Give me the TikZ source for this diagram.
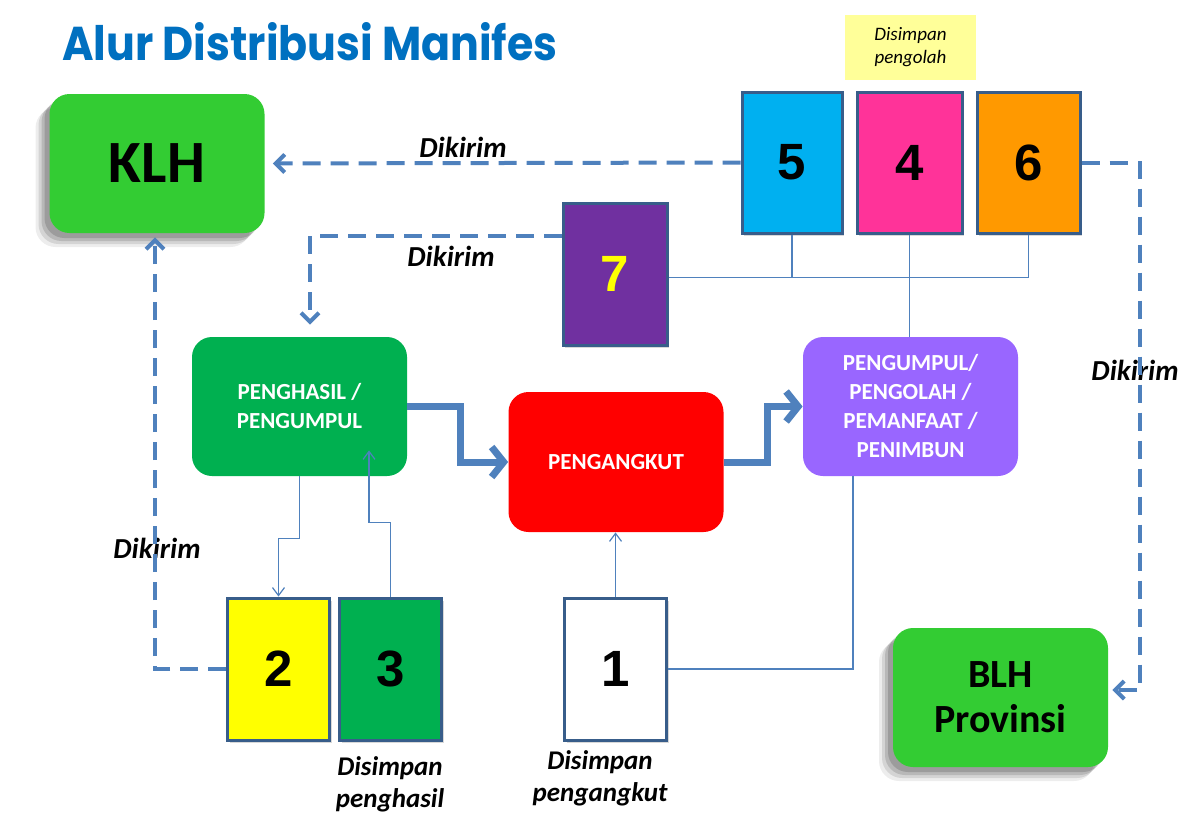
\documentclass[tikz,border=0pt]{standalone}
\usepackage{fontspec}
\setmainfont{Carlito}
\newfontfamily\numfont{Liberation Sans}
\newfontfamily\titlefont{Poppins}
\usetikzlibrary{arrows.meta,shadows,calc}
\definecolor{titleblue}{HTML}{0070C0}
\definecolor{arrblue}{HTML}{4F81BD}
\definecolor{docedge}{HTML}{385D8A}
\definecolor{klhgreen}{HTML}{33CC33}
\definecolor{darkgreen}{HTML}{00B050}
\definecolor{redbox}{HTML}{FF0000}
\definecolor{purplebox}{HTML}{9966FF}
\definecolor{cyanbox}{HTML}{00B0F0}
\definecolor{pinkbox}{HTML}{FF3399}
\definecolor{orangebox}{HTML}{FF9900}
\definecolor{violetbox}{HTML}{7030A0}
\definecolor{yellowbox}{HTML}{FFFF00}
\definecolor{notebox}{HTML}{FFFF99}
\begin{document}
\begin{tikzpicture}[x=0.5pt,y=-0.5pt,
  rbox/.style={rounded corners=10pt, inner sep=0pt, align=center},
  bigbox/.style={rbox, fill=klhgreen, minimum width=107.5pt, minimum height=69.5pt,
    general shadow={shadow xshift=-7pt, shadow yshift=-7pt, opacity=0.07, fill=black},
    general shadow={shadow xshift=-5.5pt, shadow yshift=-5.5pt, opacity=0.10, fill=black},
    general shadow={shadow xshift=-4pt, shadow yshift=-4pt, opacity=0.13, fill=black},
    general shadow={shadow xshift=-2.5pt, shadow yshift=-2.5pt, opacity=0.15, fill=black}},
  flowbox/.style={rbox, minimum width=107.5pt, minimum height=69.5pt, text=white,
    font=\fontsize{11.5}{14.5}\selectfont\bfseries},
  docbox/.style={draw=docedge, line width=1.5pt, minimum width=51pt, minimum height=71pt,
    inner sep=0pt, font=\numfont\fontsize{25.5}{30}\selectfont\bfseries,
    drop shadow={shadow xshift=1pt, shadow yshift=-1.5pt, opacity=0.3}},
  sentlabel/.style={font=\fontsize{14.5}{17}\selectfont\bfseries\itshape},
  keeplabel/.style={align=center, font=\fontsize{13.5}{16}\selectfont\bfseries\itshape},
  dashcon/.style={draw=arrblue, line width=2pt, dash pattern=on 9pt off 5pt},
  dashtip/.style={-{Straight Barb[length=4.5pt,width=9pt]}},
  thickcon/.style={draw=arrblue, line width=3.5pt, -{Straight Barb[length=6pt,width=15pt]}},
  thincon/.style={draw=arrblue, line width=0.6pt},
  thintip/.style={-{Straight Barb[length=4pt,width=6pt]}}
]
\useasboundingbox (0,0) rectangle (1202,830);
\fill[white] (0,0) rectangle (1202,830);

% title
\node[anchor=west, inner sep=0pt, text=titleblue] (title) at (62,42)
  {\resizebox{247.5pt}{19pt}{\titlefont\bfseries Alur Distribusi Manifes}};

% big boxes
\node[bigbox, font=\fontsize{30}{36}\selectfont\bfseries] (klh) at (157,163.5) {KLH};
\node[bigbox, font=\fontsize{20}{22.5}\selectfont\bfseries] (blh) at (1000.5,697.5) {BLH\\Provinsi};

% flow boxes
\node[flowbox, fill=darkgreen] (gen) at (299.5,406.5) {PENGHASIL /\\PENGUMPUL};
\node[flowbox, fill=redbox, minimum height=70pt] (trans) at (616,462) {PENGANGKUT};
\node[flowbox, fill=purplebox] (proc) at (910.5,406.5) {PENGUMPUL/\\PENGOLAH /\\PEMANFAAT /\\PENIMBUN};

% documents
\node[docbox, fill=cyanbox, minimum width=50pt, minimum height=70.5pt] (b5) at (792,162.5) {5};
\node[docbox, fill=pinkbox, minimum width=52.5pt, minimum height=70.5pt] (b4) at (909.5,162.5) {4};
\node[docbox, fill=orangebox, minimum width=51.5pt, minimum height=70.5pt] (b6) at (1028.5,162.5) {6};
\node[docbox, fill=violetbox, text=yellowbox, minimum width=52pt] (b7) at (615,274) {7};
\node[docbox, fill=yellowbox] (b2) at (278.5,669) {2};
\node[docbox, fill=darkgreen] (b3) at (390.5,669) {3};
\node[docbox, fill=white] (b1) at (615.5,669) {1};

% note
\node[fill=notebox, minimum width=65.5pt, minimum height=32.5pt, inner sep=0pt, align=center,
  font=\fontsize{9.5}{11.5}\selectfont\itshape] (note) at (910.5,47.5) {Disimpan\\pengolah};

% labels
\node[sentlabel] (s1) at (463,147) {Dikirim};
\node[sentlabel] (s2) at (451,256) {Dikirim};
\node[sentlabel] (s3) at (157,548) {Dikirim};
\node[sentlabel] (s4) at (1135,370) {Dikirim};
\node[keeplabel] (k1) at (390,784) {Disimpan\\penghasil};
\node[keeplabel] (k2) at (600,778) {Disimpan\\pengangkut};

% dashed connectors
\draw[dashcon, dashtip, shorten >=4pt] (b5.west) -- (klh.east);
\draw[dashcon, dashtip, shorten >=6pt] ([yshift=-17pt]b7.north west) -| ([xshift=5.25pt]gen.north);
\draw[dashcon, dashtip, shorten >=2pt] (b2.west) -| ([xshift=-1pt]klh.south);
\draw[dashcon, dashtip, shorten >=2pt] (b6.east) -- ++(58,0) |- ([yshift=3.75pt]blh.east);

% thick flow arrows
\draw[thickcon] (gen.east) -- ++(53,0) |- (trans.west);
\draw[thickcon] (trans.east) -- ++(44,0) |- (proc.west);

% thin connectors
\draw[thincon] (b6.south) -- ++(0,43) coordinate (h6) -- (h6 -| b7.east);
\draw[thincon] (b5.south) -- (b5.south |- h6);
\draw[thincon] (b4.south) -- (b4.south |- proc.north);
\draw[thincon, thintip] (gen.south) -- ++(0,62) -| (b2.north);
\draw[thincon, thintip] (b3.north) -- ++(0,-74) -| ([xshift=34.75pt,yshift=13pt]gen.south);
\draw[thincon, thintip] (b1.north) -- (b1.north |- trans.south);
\draw[thincon] (b1.east) -| ([xshift=-28.75pt]proc.south);
\end{tikzpicture}
\end{document}
